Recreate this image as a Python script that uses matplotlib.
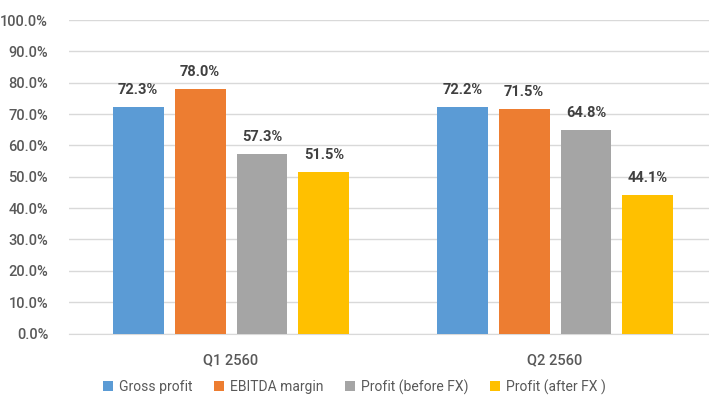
import numpy as np
import matplotlib
matplotlib.use("Agg")
import matplotlib.pyplot as plt
from matplotlib.ticker import FuncFormatter

categories = ["Q1 2560", "Q2 2560"]
series = ["Gross profit", "EBITDA margin", "Profit (before FX)", "Profit (after FX )"]
gross = [72.3, 72.2]
ebitda = [78.0, 71.5]
before_fx = [57.3, 64.8]
after_fx = [51.5, 44.1]
colors = ["#5b9bd5", "#ed7d31", "#a5a5a5", "#ffc000"]

plt.rcParams['font.family'] = ['Roboto', 'DejaVu Sans']

fig = plt.figure(figsize=(7.09, 4.05), dpi=100)
ax = fig.add_axes([69/709, 71.5/405, 1 - 69/709, 313.5/405])

x = np.arange(len(categories))
width = 0.157
step = 0.191
for i, (name, vals) in enumerate(zip(series, [gross, ebitda, before_fx, after_fx])):
    pos = x + (i - 1.5) * step
    bars = ax.bar(pos, vals, width, color=colors[i], label=name, zorder=3)
    for b, v in zip(bars, vals):
        ax.text(b.get_x() + b.get_width()/2, v + 3.2, "%.1f%%" % v,
                ha='center', va='bottom', fontsize=10.5, fontweight='bold', color='#404040')

ax.set_ylim(0, 100)
ax.set_xlim(-0.5, 1.475)
ax.set_yticks(np.arange(0, 101, 10))
ax.yaxis.set_major_formatter(FuncFormatter(lambda v, p: "%.1f%%" % v))
ax.grid(axis='y', color='#d9d9d9', linewidth=1, zorder=0)
for s in ['top', 'right', 'left']:
    ax.spines[s].set_visible(False)
ax.spines['bottom'].set_color('#d9d9d9')
ax.tick_params(axis='both', length=0, labelsize=10.5, labelcolor='#595959')
ax.tick_params(axis='y', pad=15)
ax.tick_params(axis='x', pad=14)
ax.set_xticks(x)
ax.set_xticklabels(categories)
for lab in ax.get_yticklabels() + ax.get_xticklabels():
    lab.set_fontweight('medium')

fig.legend(loc='lower center', bbox_to_anchor=(0.5, -0.005), ncol=4, frameon=False,
           fontsize=10, handlelength=0.7, handleheight=0.7, handletextpad=0.4,
           columnspacing=1.6, labelcolor='#595959')

fig.savefig("out.png", dpi=100)
